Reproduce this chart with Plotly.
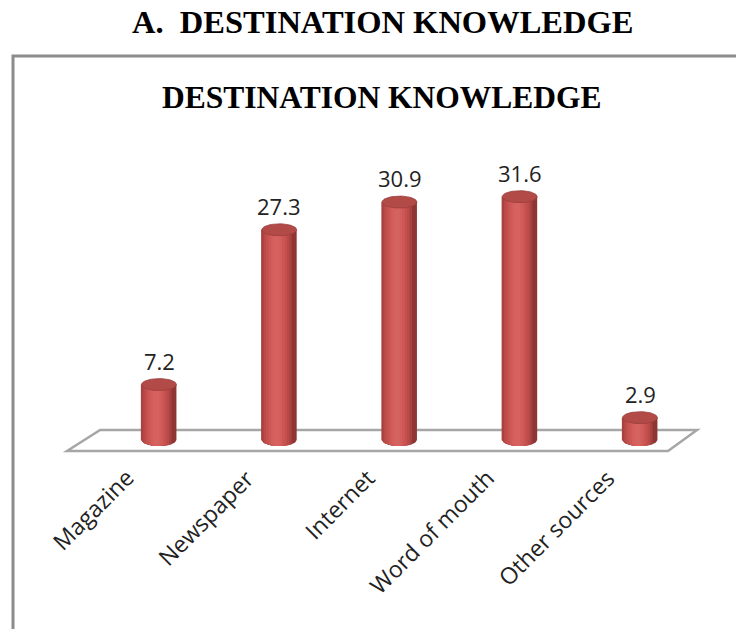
import numpy as np
import plotly.graph_objects as go

# Share of respondents by source of destination knowledge (%)
categories = ["Magazine", "Newspaper", "Internet", "Word of mouth", "Other sources"]
values = [7.2, 27.3, 30.9, 31.6, 2.9]

xpos = list(range(len(categories)))

# cylinder geometry (data units)
BAR_W = 0.29
CAP_H = 0.78
# shading strips from outer edge to highlight
strip_frac = [1.0, 0.88, 0.74, 0.6, 0.46, 0.32, 0.18]
strip_col = ["#8f3634", "#a84240", "#b94a47", "#c4514e", "#cc5754", "#d25d5a", "#d6625f"]
HL_SHIFT = -0.08 * BAR_W

fig = go.Figure()


def half_ellipse(xc, xa, xb, yc, n=24):
    """Lower half-ellipse segment of a cylinder base between xa and xb."""
    a = BAR_W / 2
    xs = np.linspace(xa, xb, n)
    t = np.clip((xs - xc) / a, -1, 1)
    ys = yc - CAP_H * np.sqrt(1 - t ** 2)
    return xs, ys


for frac, col in zip(strip_frac, strip_col):
    w = BAR_W * frac
    if frac == 1.0:
        off = -BAR_W / 2
    else:
        off = HL_SHIFT - w / 2
    fig.add_trace(go.Bar(
        x=xpos, y=values, base=0, width=w, offset=off,
        marker=dict(color=col, line=dict(width=0)),
        hoverinfo="skip", showlegend=False,
    ))
    # rounded base for this strip
    px, py = [], []
    for xc in xpos:
        xa, xb = xc + off, xc + off + w
        xs, ys = half_ellipse(xc, xa, xb, 0)
        px += [xa] + list(xs) + [xb, xa, None]
        py += [0] + list(ys) + [0, 0, None]
    fig.add_trace(go.Scatter(
        x=px, y=py, mode="lines", fill="toself", fillcolor=col,
        line=dict(width=0), hoverinfo="skip", showlegend=False,
    ))

# top caps
th = np.linspace(0, 2 * np.pi, 60)
cx, cy = [], []
for xc, v in zip(xpos, values):
    cx += list(xc + BAR_W / 2 * np.cos(th)) + [None]
    cy += list(v + CAP_H * np.sin(th)) + [None]
fig.add_trace(go.Scatter(
    x=cx, y=cy, mode="lines", fill="toself", fillcolor="#b24a47",
    line=dict(width=0.8, color="#9a3e3c"), hoverinfo="skip", showlegend=False,
))

# value labels above each cylinder
for xc, v in zip(xpos, values):
    fig.add_annotation(
        x=xc, y=v, text=f"{v}", showarrow=False, yshift=24,
        xanchor="center", yanchor="middle",
        font=dict(family="Open Sans", size=22, color="#222222"),
    )

# rotated category labels
for xc, c in zip(xpos, categories):
    fig.add_annotation(
        x=xc - 0.13, y=-2.5, text=c, showarrow=False, textangle=-45,
        xanchor="right", yanchor="top",
        font=dict(family="Open Sans", size=23, color="#222222"),
    )

# floor of the 3-D plot area
fig.add_shape(
    type="path", xref="x", yref="y", layer="below",
    path="M -0.765,-1.43 L -0.49,1.3 L 4.474,1.3 L 4.233,-1.43 Z",
    line=dict(color="#a6a6a6", width=2.5), fillcolor="rgba(0,0,0,0)",
)

# chart frame
fig.add_shape(
    type="rect", xref="paper", yref="paper", layer="below",
    x0=13 / 736, x1=1.05, y0=-0.05, y1=1 - 56 / 629,
    line=dict(color="#8c8c8c", width=3), fillcolor="rgba(0,0,0,0)",
)

# headings
fig.add_annotation(
    x=382 / 736, y=1 - 22 / 629, xref="paper", yref="paper",
    text="<b>A.  DESTINATION KNOWLEDGE</b>", showarrow=False,
    xanchor="center", yanchor="middle",
    font=dict(family="Liberation Serif", size=32.5, color="#000000"),
)
fig.add_annotation(
    x=382 / 736, y=1 - 97 / 629, xref="paper", yref="paper",
    text="<b>DESTINATION KNOWLEDGE</b>", showarrow=False,
    xanchor="center", yanchor="middle",
    font=dict(family="Liberation Serif", size=31.5, color="#000000"),
)

fig.update_layout(
    width=736, height=629,
    margin=dict(l=0, r=0, t=0, b=0),
    paper_bgcolor="white", plot_bgcolor="white",
    barmode="overlay",
    xaxis=dict(range=[-159 / 120.25, (736 - 159) / 120.25], visible=False, fixedrange=True),
    yaxis=dict(range=[-189 / 7.7, 440 / 7.7], visible=False, fixedrange=True),
    showlegend=False,
)

fig.write_html("out.html")
